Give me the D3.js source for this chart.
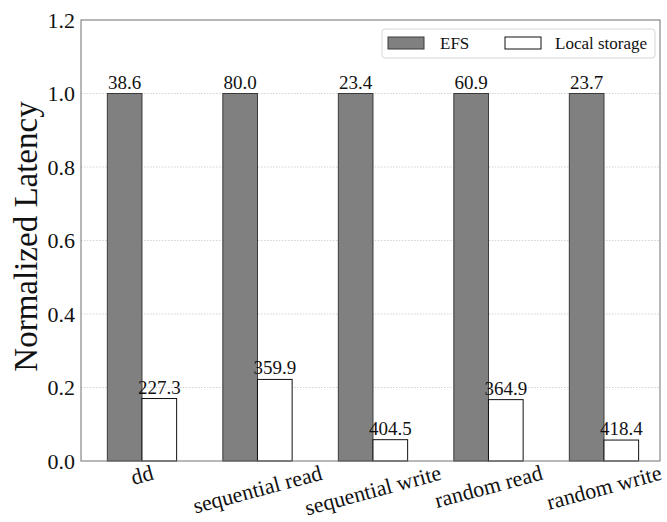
<!DOCTYPE html>
<html>
<head>
<meta charset="utf-8">
<script src="https://cdn.jsdelivr.net/npm/d3@7"></script>
<style>
  html, body { margin: 0; padding: 0; background: #fff; }
  svg { display: block; }
  text { font-family: "Liberation Serif", "DejaVu Serif", serif; fill: #111; }
</style>
</head>
<body>
<svg id="chart" width="667" height="522"></svg>
<script>
// Workloads on the x axis
const categories = ["dd", "sequential read", "sequential write", "random read", "random write"];
// Normalized latency (bar heights)
const efsNormalized = [1.0, 1.0, 1.0, 1.0, 1.0];
const localNormalized = [0.170, 0.222, 0.058, 0.167, 0.057];
// Raw values printed above each bar
const efsLabels = [38.6, 80.0, 23.4, 60.9, 23.7];
const localLabels = [227.3, 359.9, 404.5, 364.9, 418.4];
// Y axis ticks
const yTicks = [0.0, 0.2, 0.4, 0.6, 0.8, 1.0, 1.2];
const seriesNames = ["EFS", "Local storage"];

const svg = d3.select("#chart");
const plot = { left: 81, right: 660, top: 20, bottom: 461 };
const barW = 0.3;

const x = d3.scaleLinear().domain([-0.528, 4.485]).range([plot.left, plot.right]);
const y = d3.scaleLinear().domain([0, 1.2]).range([plot.bottom, plot.top]);
const fmt = d3.format(".1f");

// grid lines
svg.append("g").selectAll("line")
  .data(yTicks.filter(t => t > 0 && t < 1.2))
  .join("line")
  .attr("x1", plot.left).attr("x2", plot.right)
  .attr("y1", d => y(d)).attr("y2", d => y(d))
  .attr("stroke", "#c8c8c8").attr("stroke-width", 0.8)
  .attr("stroke-dasharray", "1.5,1.5");

// y axis tick labels
const yAxis = d3.axisLeft(y).tickValues(yTicks).tickFormat(d3.format(".1f")).tickSize(0).tickPadding(6);
const yg = svg.append("g").attr("transform", `translate(${plot.left},0)`).call(yAxis);
yg.select(".domain").remove();
yg.selectAll("text")
  .style("font-family", '"Liberation Serif", serif')
  .style("font-size", "22px").attr("fill", "#111");

// bars
const series = [
  { name: seriesNames[0], vals: efsNormalized, labels: efsLabels, off: -barW / 2, fill: "#808080", stroke: "#3a3a3a" },
  { name: seriesNames[1], vals: localNormalized, labels: localLabels, off: barW / 2, fill: "#ffffff", stroke: "#111" }
];

series.forEach(s => {
  const g = svg.append("g");
  g.selectAll("rect").data(s.vals).join("rect")
    .attr("x", (d, i) => x(i + s.off - barW / 2))
    .attr("width", x(barW) - x(0))
    .attr("y", d => y(d))
    .attr("height", d => y(0) - y(d))
    .attr("fill", s.fill).attr("stroke", s.stroke).attr("stroke-width", 1);
  g.selectAll("text").data(s.vals).join("text")
    .attr("x", (d, i) => x(i + s.off))
    .attr("y", d => y(d) - 5)
    .attr("text-anchor", "middle")
    .style("font-size", "19px")
    .text((d, i) => fmt(s.labels[i]));
});

// frame
svg.append("rect")
  .attr("x", plot.left).attr("y", plot.top)
  .attr("width", plot.right - plot.left).attr("height", plot.bottom - plot.top)
  .attr("fill", "none").attr("stroke", "#707070").attr("stroke-width", 1);

// x tick labels, rotated
const angle = 15;
const rad = angle * Math.PI / 180;
const fs = 22;
const xl = svg.append("g");
categories.forEach((c, i) => {
  const t = xl.append("text")
    .attr("text-anchor", "middle")
    .attr("dominant-baseline", "central")
    .style("font-size", fs + "px")
    .text(c);
  const w = t.node().getComputedTextLength();
  const cy = plot.bottom + 2 + (w * Math.sin(rad) + 0.85 * fs * Math.cos(rad)) / 2;
  t.attr("transform", `translate(${x(i)},${cy}) rotate(${-angle})`);
});

// y axis title
svg.append("text")
  .attr("transform", `translate(26,${(plot.top + plot.bottom) / 2 - 4}) rotate(-90)`)
  .attr("text-anchor", "middle")
  .attr("dominant-baseline", "central")
  .style("font-size", "33px")
  .text("Normalized Latency");

// legend
const lg = svg.append("g");
lg.append("rect")
  .attr("x", 382).attr("y", 29).attr("width", 273).attr("height", 29)
  .attr("rx", 3).attr("fill", "#fff").attr("fill-opacity", 0.85)
  .attr("stroke", "#d6d6d6").attr("stroke-width", 1);
const legendItems = [
  { name: seriesNames[0], fill: series[0].fill, stroke: series[0].stroke, px: 388, tx: 440 },
  { name: seriesNames[1], fill: series[1].fill, stroke: series[1].stroke, px: 505, tx: 555 }
];
legendItems.forEach(it => {
  lg.append("rect").attr("x", it.px).attr("y", 37).attr("width", 36).attr("height", 12)
    .attr("fill", it.fill).attr("stroke", it.stroke).attr("stroke-width", 1);
  lg.append("text").attr("x", it.tx).attr("y", 43)
    .attr("dominant-baseline", "central")
    .style("font-size", "17px").text(it.name);
});
</script>
</body>
</html>
